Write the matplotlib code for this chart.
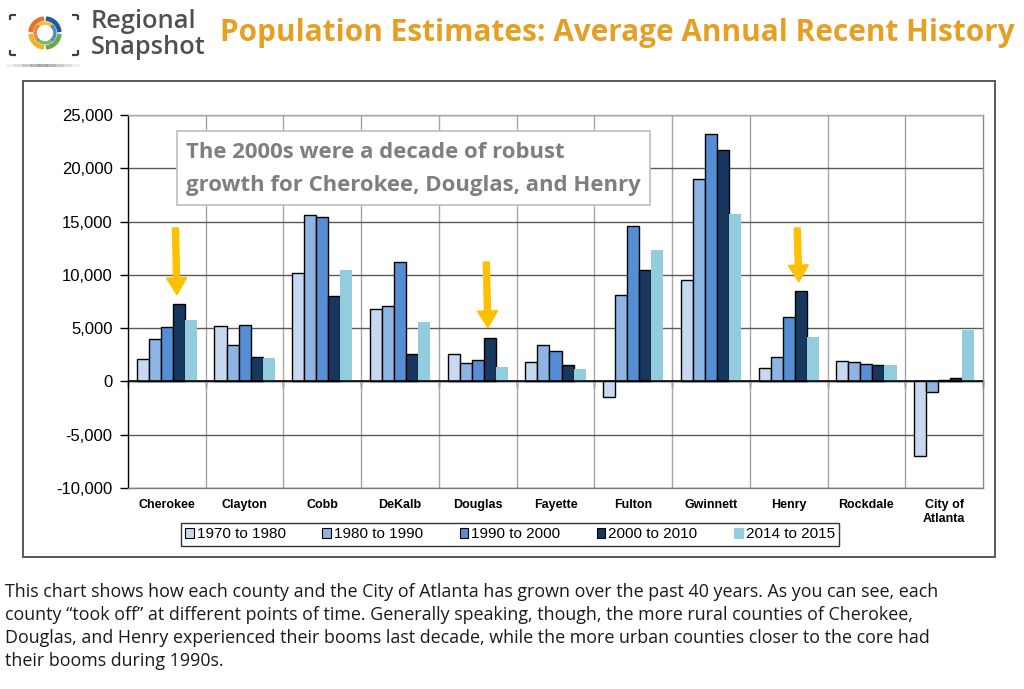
import matplotlib
matplotlib.use('Agg')
import matplotlib.pyplot as plt
from matplotlib.patches import Rectangle, Wedge, Patch
from matplotlib.lines import Line2D
import numpy as np

plt.rcParams['axes.unicode_minus'] = False
plt.rcParams['font.family'] = ['Liberation Sans', 'DejaVu Sans']

# ---------------- data ----------------
categories = ['Cherokee', 'Clayton', 'Cobb', 'DeKalb', 'Douglas', 'Fayette',
              'Fulton', 'Gwinnett', 'Henry', 'Rockdale', 'City of\nAtlanta']
series_labels = ['1970 to 1980', '1980 to 1990', '1990 to 2000',
                 '2000 to 2010', '2014 to 2015']
y1970 = [2100, 5200, 10150, 6800, 2600, 1800, -1450, 9500, 1300, 1900, -7000]
y1980 = [4000, 3400, 15600, 7100, 1700, 3400, 8100, 19000, 2300, 1800, -950]
y1990 = [5100, 5250, 15450, 11250, 2050, 2900, 14550, 23200, 6050, 1600, 100]
y2000 = [7250, 2300, 8050, 2600, 4050, 1500, 10450, 21700, 8450, 1500, 350]
y2014 = [5800, 2200, 10500, 5550, 1400, 1200, 12300, 15700, 4200, 1500, 4800]
yticks = [-10000, -5000, 0, 5000, 10000, 15000, 20000, 25000]

# highlighted counties (arrows): category index, tail value, tip value
arrow_cats = [0, 4, 8]
arrow_tail = [14400, 11200, 14400]
arrow_tip = [8150, 5050, 9350]

title = 'Population Estimates: Average Annual Recent History'
callout = ['The 2000s were a decade of robust',
           'growth for Cherokee, Douglas, and Henry']
footer = ['This chart shows how each county and the City of Atlanta has grown over the past 40 years. As you can see, each',
          'county \u201ctook off\u201d at different points of time. Generally speaking, though, the more rural counties of Cherokee,',
          'Douglas, and Henry experienced their booms last decade, while the more urban counties closer to the core had',
          'their booms during 1990s.']

colors = ['#C6D9F1', '#8EB4E3', '#558ED5', '#17375E', '#93CDDD']
edges = ['black', 'black', 'black', 'black', 'none']

# ---------------- figure ----------------
W, H = 1024, 689
fig = plt.figure(figsize=(W / 100, H / 100), dpi=100)
fig.patch.set_facecolor('white')
renderer = fig.canvas.get_renderer()


def fx(px):
    return px / W


def fy(py):
    return 1 - py / H


def fit(t, target):
    bb = t.get_window_extent(renderer)
    t.set_fontsize(t.get_fontsize() * target / bb.width)
    return t


# chart frame
fig.add_artist(Rectangle((fx(23), fy(557)), fx(995) - fx(23), fy(81) - fy(557),
                         transform=fig.transFigure, fill=False,
                         ec='#595959', lw=1.4, zorder=1))

ax = fig.add_axes([fx(128), fy(488), fx(983) - fx(128), fy(115) - fy(488)])
x = np.arange(len(categories))
w = 0.155
series = [y1970, y1980, y1990, y2000, y2014]
for j, vals in enumerate(series):
    ax.bar(x + (j - 2) * w, vals, w, color=colors[j], edgecolor=edges[j],
           linewidth=1.0, zorder=3, label=series_labels[j])

ax.set_xlim(-0.5, len(categories) - 0.5)
ax.set_ylim(-10000, 25000)
ax.set_yticks(yticks)
ax.set_yticklabels([f'{v:,}' for v in yticks])
ax.set_xticks(x)
ax.set_xticklabels(categories, fontweight='bold', fontsize=9)
ax.set_xticks(np.arange(0.5, len(categories) - 0.5, 1), minor=True)
ax.tick_params(axis='x', which='both', length=0, pad=8)
ax.tick_params(axis='y', length=6, direction='out', pad=5, labelsize=12,
               width=1, color='black')
ax.grid(axis='x', which='minor', color='#a6a6a6', lw=1)
ax.grid(axis='y', which='major', color='#595959', lw=1)
ax.set_axisbelow(True)
ax.spines['left'].set_color('black')
ax.spines['top'].set_color('#a6a6a6')
ax.spines['right'].set_color('#8c8c8c')
ax.spines['bottom'].set_color('#7f7f7f')
for s in ax.spines.values():
    s.set_linewidth(1)

# zero axis with category tick marks
ax.axhline(0, color='black', lw=1.1, zorder=4)
sec = ax.secondary_xaxis(10000 / 35000)
sec.xaxis.set_ticks_position('bottom')
sec.set_xticks(np.arange(-0.5, len(categories), 1))
sec.set_xticklabels([])
sec.tick_params(axis='x', length=4, direction='out', color='black', width=1)
for s in sec.spines.values():
    s.set_color('black')
    s.set_linewidth(1)

# arrows
for c, ytail, ytip in zip(arrow_cats, arrow_tail, arrow_tip):
    ax.annotate('', xy=(c + 0.13, ytip), xytext=(c + 0.11, ytail),
                arrowprops=dict(arrowstyle='simple,head_length=1.0,head_width=1.2,tail_width=0.36',
                                mutation_scale=12, color='#FFC000',
                                shrinkA=0, shrinkB=0), zorder=6)

# legend
handles = [Patch(facecolor=colors[j], edgecolor=('black' if edges[j] != 'none' else colors[j]),
                 lw=0.8) for j in range(5)]
leg = fig.legend(handles, series_labels, loc='center',
                 bbox_to_anchor=(fx(510), fy(534.5)), ncol=5, frameon=True,
                 fancybox=False, edgecolor='black', fontsize=11,
                 handlelength=0.55, handleheight=0.55, handletextpad=0.2,
                 columnspacing=2.4, borderpad=0.3, borderaxespad=0)
leg.get_frame().set_linewidth(1)

# callout box
fig.add_artist(Rectangle((fx(177), fy(205)), fx(650) - fx(177), fy(131) - fy(205),
                         transform=fig.transFigure, fc='white', ec='#bfbfbf',
                         lw=1.2, zorder=5))
t1 = fig.text(fx(186), fy(153), callout[0], fontsize=15, fontweight='bold',
              color='#7f7f7f', family='Open Sans', va='center', ha='left', zorder=6)
fit(t1, 377)
fig.text(fx(186), fy(185), callout[1], fontsize=t1.get_fontsize(), fontweight='bold',
         color='#7f7f7f', family='Open Sans', va='center', ha='left', zorder=6)

# title
tt = fig.text(fx(220), fy(33), title, fontsize=20, fontweight='bold',
              color='#E5A024', family='Open Sans', va='center', ha='left')
fit(tt, 792)

# logo text
lt1 = fig.text(fx(91), fy(21), 'Regional', fontsize=16, color='#505050',
               family='Open Sans', fontweight='semibold', va='center', ha='left')
fit(lt1, 106)
lt2 = fig.text(fx(91), fy(47), 'Snapshot', fontsize=lt1.get_fontsize(), color='#505050',
               family='Open Sans', fontweight='semibold', va='center', ha='left')

# logo icon
lax = fig.add_axes([fx(5), fy(62), fx(85) - fx(5), fy(5) - fy(62)])
lax.set_xlim(0, 80)
lax.set_ylim(0, 57)
lax.axis('off')
cx, cy = 40, 29
ring = [(0, 90, '#1f5c99'), (90, 180, '#e8702a'), (180, 270, '#f0b323'), (270, 360, '#6aa84f')]
for a0, a1, col in ring:
    lax.add_patch(Wedge((cx, cy), 16, a0 + 6, a1 - 6, width=3.2, color=col))
inner = [(45, 135, '#f0b323'), (135, 225, '#e8702a'), (225, 315, '#6aa84f'), (315, 405, '#2e7bbf')]
for a0, a1, col in inner:
    lax.add_patch(Wedge((cx, cy), 11, a0, a1, width=2.2, color=col, alpha=0.75))
bk = dict(color='#404040', lw=1.6, solid_capstyle='butt')
for (bx, by, dx, dy) in [(5, 47, 1, -1), (73, 47, -1, -1), (5, 7, 1, 1), (73, 7, -1, 1)]:
    lax.plot([bx, bx + dx * 6], [by, by], **bk)
    lax.plot([bx, bx], [by, by + dy * 5], **bk)
# soft shadow under the logo
shadow_alpha = [0.12, 0.25, 0.4, 0.55, 0.6, 0.55, 0.4, 0.25, 0.12]
for k, a in enumerate(shadow_alpha):
    fig.add_artist(Line2D([fx(6 + k * 8), fx(15 + k * 8)], [fy(65), fy(65)],
                          color='#808080', lw=2.2, alpha=a, solid_capstyle='butt'))

# footer text
f1 = fig.text(fx(5), fy(592), footer[0], fontsize=12, color='#1a1a1a',
              family='Open Sans', va='center', ha='left')
fit(f1, 933)
for i, line in enumerate(footer[1:], start=1):
    fig.text(fx(5), fy(592 + 23 * i), line, fontsize=f1.get_fontsize(),
             color='#1a1a1a', family='Open Sans', va='center', ha='left')

fig.savefig('out.png', dpi=100, facecolor='white')
